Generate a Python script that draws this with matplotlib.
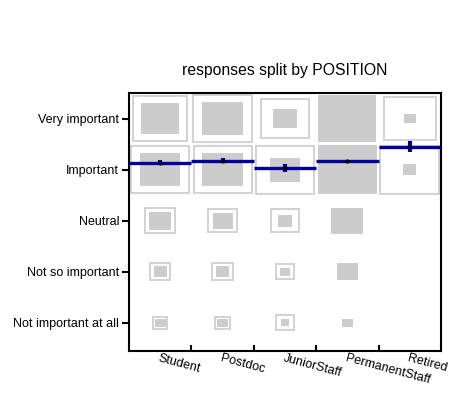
import matplotlib
matplotlib.use('Agg')
import matplotlib.pyplot as plt
from matplotlib.patches import Rectangle

plt.rcParams['font.family'] = ['Liberation Sans', 'DejaVu Sans']

positions = ['Student', 'Postdoc', 'JuniorStaff', 'PermanentStaff', 'Retired']
levels = ['Not important at all', 'Not so important', 'Neutral',
          'Important', 'Very important']

# side of the filled square, per position, levels 1..5 (data units)
fill_student = [0.17, 0.215, 0.35, 0.65, 0.61]
fill_postdoc = [0.17, 0.22, 0.32, 0.66, 0.66]
fill_junior = [0.135, 0.15, 0.235, 0.47, 0.385]
fill_permanent = [0.17, 0.33, 0.51, 0.95, 0.93]
fill_retired = [0.0, 0.0, 0.0, 0.21, 0.19]

# side of the hollow outline square (0 = not visible)
outline_student = [0.225, 0.325, 0.48, 0.93, 0.87]
outline_postdoc = [0.235, 0.325, 0.46, 0.93, 0.935]
outline_junior = [0.29, 0.29, 0.45, 0.94, 0.78]
outline_permanent = [0.0, 0.0, 0.0, 0.0, 0.0]
outline_retired = [0.0, 0.0, 0.0, 0.94, 0.84]

means = [4.137, 4.176, 4.033, 4.163, 4.45]
errs = [0.05, 0.05, 0.085, 0.01, 0.11]

fills = [fill_student, fill_postdoc, fill_junior, fill_permanent, fill_retired]
outlines = [outline_student, outline_postdoc, outline_junior,
            outline_permanent, outline_retired]

fig = plt.figure(figsize=(4.53, 3.93), dpi=100)
ax = fig.add_axes([0.2848, 0.1069, 0.6887, 0.6565])

grey = '#cccccc'
blue = '#00009c'
for i in range(len(positions)):
    x = i + 1
    for j in range(len(levels)):
        y = j + 1
        s = outlines[i][j]
        if s > 0:
            ax.add_patch(Rectangle((x - s / 2, y - s / 2), s, s, facecolor='white',
                                   edgecolor='#d2d2d2', lw=1.4, zorder=1))
        s = fills[i][j]
        if s > 0:
            ax.add_patch(Rectangle((x - s / 2, y - s / 2), s, s, facecolor=grey,
                                   edgecolor='none', zorder=2))
    ax.plot([x - 0.5, x + 0.5], [means[i], means[i]], color=blue, lw=2.4,
            solid_capstyle='butt', zorder=3)
    ax.plot([x, x], [means[i] - errs[i], means[i] + errs[i]], color=blue, lw=3,
            solid_capstyle='butt', zorder=4)
    ax.plot(x, means[i], 'o', color='black', ms=2, zorder=5)

ax.set_xlim(0.5, 5.5)
ax.set_ylim(0.45, 5.5)

ax.set_yticks(range(1, 6))
ax.set_yticklabels(levels, fontsize=9)
ax.tick_params(axis='y', direction='out', length=5, width=1.5, pad=2)

ax.set_xticks([1.5, 2.5, 3.5, 4.5])
ax.set_xticklabels([])
ax.tick_params(axis='x', which='major', direction='in', length=4, width=1.5)
ax.set_xticks(range(1, 6), minor=True)
ax.set_xticklabels(positions, minor=True, fontsize=9)
ax.tick_params(axis='x', which='minor', length=0, pad=1)
for lab in ax.get_xticklabels(minor=True):
    lab.set_rotation(-15)
    lab.set_ha('left')
    lab.set_rotation_mode('anchor')

for sp in ax.spines.values():
    sp.set_linewidth(1.5)

ax.set_title('responses split by POSITION', fontsize=11.3, pad=13)

fig.savefig('out.png', dpi=100)
